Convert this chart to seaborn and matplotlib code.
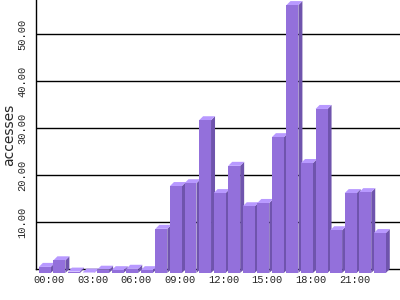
import matplotlib
matplotlib.use("Agg")
import matplotlib.pyplot as plt
import seaborn as sns
from matplotlib.patches import Polygon

hours = ["%02d:00" % h for h in range(24)]
values = [1.3, 2.7, 0.3, 0.1, 0.7, 0.6, 0.9, 0.6, 9.4, 18.5, 19.1, 32.5,
          17.0, 22.8, 14.2, 14.9, 28.9, 57.0, 23.4, 34.9, 9.1, 17.0, 17.2, 8.5]
tick_hours = ["00:00", "03:00", "06:00", "09:00", "12:00", "15:00", "18:00", "21:00"]
y_ticks = [10, 20, 30, 40, 50]

front_col = "#9370DB"
side_col = "#6F54AD"
top_col = "#B899FF"

sns.set_style("white")
fig = plt.figure(figsize=(4, 3), dpi=100)
W, H = 400, 300
ax_l, ax_b, ax_w, ax_h = 36, 31, 364, 269
ax = fig.add_axes([ax_l / W, ax_b / H, ax_w / W, ax_h / H])

sns.barplot(x=hours, y=values, order=hours, color=front_col, saturation=1,
            width=0.82, ax=ax, linewidth=0)

xmin, xmax = -0.882, 24.11
ymin, ymax = 0, 57.23
ax.set_xlim(xmin, xmax)
ax.set_ylim(ymin, ymax)

d = 4.0
dxu = d * (xmax - xmin) / ax_w
dyu = d * (ymax - ymin) / ax_h

for i, p in enumerate(list(ax.patches)):
    x0 = p.get_x()
    w = p.get_width()
    h = p.get_height()
    z = 3 + i * 0.01
    side = Polygon([(x0 + w - dxu, -dyu), (x0 + w, 0), (x0 + w, h), (x0 + w - dxu, h - dyu)],
                   closed=True, facecolor=side_col, edgecolor="none", zorder=z, clip_on=False)
    top = Polygon([(x0 - dxu, h - dyu), (x0, h), (x0 + w, h), (x0 + w - dxu, h - dyu)],
                  closed=True, facecolor=top_col, edgecolor="none", zorder=z, clip_on=False)
    ax.add_patch(side)
    ax.add_patch(top)
    p.set_x(x0 - dxu)
    p.set_y(-dyu)
    p.set_zorder(z + 0.001)
    p.set_clip_on(False)

ax.set_yticks(y_ticks)
ax.set_yticklabels(["%.2f" % v for v in y_ticks], rotation=90, va="center",
                   family="Liberation Mono", fontsize=7.5)
ax.set_xticks([hours.index(t) for t in tick_hours])
ax.set_xticklabels(tick_hours, family="Liberation Mono", fontsize=7.5)
ax.tick_params(axis="both", length=0)
ax.tick_params(axis="y", pad=6.5)
ax.tick_params(axis="x", pad=4)

ax.yaxis.grid(True, color="black", linewidth=1)
ax.xaxis.grid(False)
ax.set_axisbelow(True)
for s in ["top", "right"]:
    ax.spines[s].set_visible(False)
for s in ["left", "bottom"]:
    ax.spines[s].set_color("black")
    ax.spines[s].set_linewidth(1)
ax.set_xlabel("")
ax.set_ylabel("accesses", fontsize=10, family="DejaVu Sans")
ax.yaxis.set_label_coords(-20 / ax_w, 0.5)

fig.savefig("out.png", dpi=100)
